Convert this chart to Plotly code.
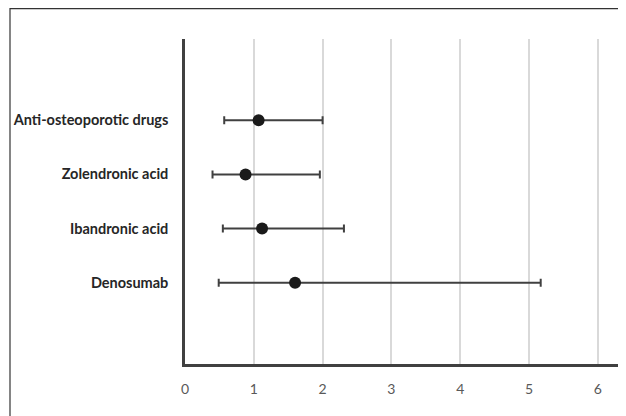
import plotly.graph_objects as go

categories = ["Anti-osteoporotic drugs", "Zolendronic acid", "Ibandronic acid", "Denosumab"]
estimate = [1.07, 0.88, 1.12, 1.60]
lower = [0.57, 0.40, 0.55, 0.49]
upper = [2.00, 1.96, 2.31, 5.17]
x_ticks = [0, 1, 2, 3, 4, 5, 6]

err_plus = [u - e for u, e in zip(upper, estimate)]
err_minus = [e - l for e, l in zip(estimate, lower)]

fig = go.Figure()
fig.add_trace(go.Scatter(
    x=estimate, y=categories, mode="markers",
    marker=dict(size=12, color="#1a1a1a"),
    error_x=dict(type="data", symmetric=False, array=err_plus, arrayminus=err_minus,
                 color="#404040", thickness=2, width=4),
    showlegend=False, cliponaxis=False,
))

# page has an 8px body margin; figure origin sits at page (8, 8)
OFF = 8
W, H = 626 - OFF, 416 - OFF
L, T = 185 - OFF, 39 - OFF
B = H - (364 - OFF)
R = 0
pw, ph = W - L - R, H - T - B
UNIT = 68.8

def px(x):
    return (x - OFF - L) / pw

def py(y):
    return (H - B - (y - OFF)) / ph

fig.add_shape(type="line", xref="paper", yref="paper", x0=px(10), x1=px(640), y0=py(8.6), y1=py(8.6),
              line=dict(color="#333333", width=1.2))
fig.add_shape(type="line", xref="paper", yref="paper", x0=px(10), x1=px(10), y0=py(8), y1=py(430),
              line=dict(color="#333333", width=1.2))

fig.update_layout(
    width=W, height=H,
    margin=dict(l=L, r=R, t=T, b=B),
    paper_bgcolor="white", plot_bgcolor="white",
    font=dict(family="Lato, Open Sans, sans-serif"),
    xaxis=dict(range=[0, pw / UNIT], tickvals=x_ticks, ticktext=[str(v) for v in x_ticks],
               showgrid=True, gridcolor="#d9d9d9", gridwidth=1.5, zeroline=False,
               showline=True, linecolor="#404040", linewidth=2.5, ticks="",
               ticklabelstandoff=10, tickfont=dict(size=14, color="#595959")),
    yaxis=dict(type="category", categoryorder="array", categoryarray=categories,
               range=[4.5, -1.5], showgrid=False, zeroline=False,
               showline=True, linecolor="#404040", linewidth=2.5, ticks="",
               ticklabelstandoff=11, tickfont=dict(size=14.5, color="#262626", weight="bold")),
)

fig.write_html("out.html")
